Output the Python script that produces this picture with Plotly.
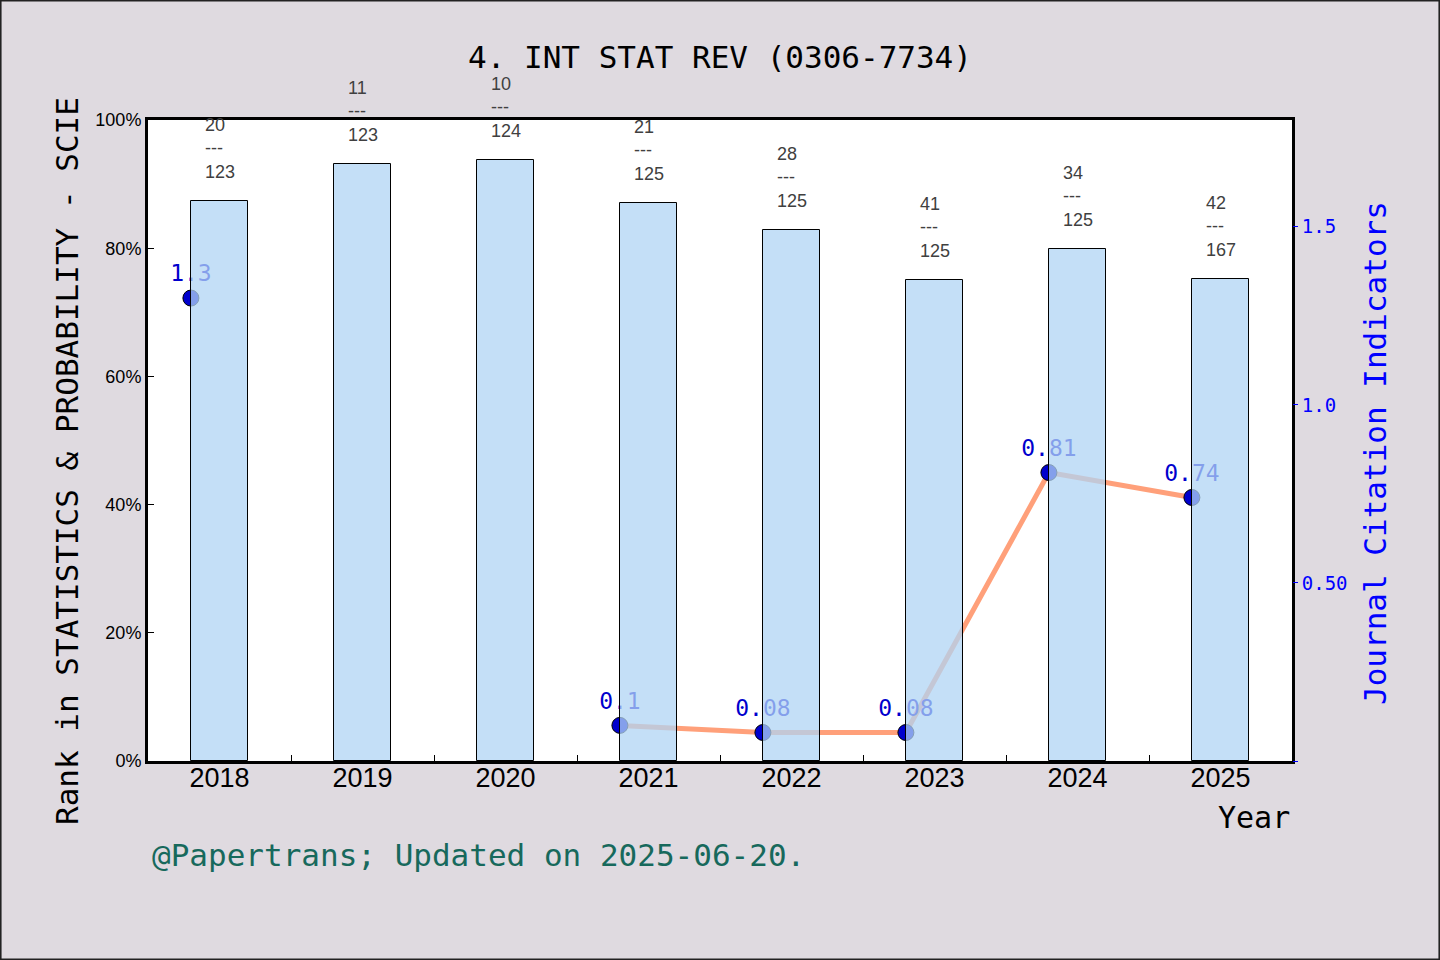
import plotly.graph_objects as go

# data
years = ["2018", "2019", "2020", "2021", "2022", "2023", "2024", "2025"]
rank_pct = [87.3, 93.1, 93.7, 87.0, 82.8, 75.0, 79.8, 75.2]
rank_pos = [20, 11, 10, 21, 28, 41, 34, 42]
rank_total = [123, 123, 124, 125, 125, 125, 125, 167]
jci = [1.3, None, None, 0.1, 0.08, 0.08, 0.81, 0.74]
pct_ticks = [0, 20, 40, 60, 80, 100]

BAR_W = 0.4
MONO = "DejaVu Sans Mono"
SANS = "Liberation Sans"
BG = "#dfdae0"

idx = list(range(len(years)))
line_x = [i - BAR_W / 2 for i in idx]

fig = go.Figure()

# line goes first (main subplot) so the semi-transparent bars sit on top of it
fig.add_trace(go.Scatter(
    x=line_x, y=jci, mode="lines+markers+text",
    line=dict(color="#ffa07a", width=5),
    marker=dict(color="#0000cd", size=16, line=dict(color="black", width=1)),
    text=[("" if v is None else f"{v:g}") for v in jci],
    textposition="top center",
    textfont=dict(family=MONO, size=23, color="#0000cd"),
    connectgaps=False, showlegend=False, yaxis="y",
))

fig.add_trace(go.Bar(
    x=idx, y=rank_pct, width=BAR_W,
    marker=dict(color="rgba(176,212,244,0.75)", line=dict(color="black", width=1)),
    showlegend=False, yaxis="y2",
))

# rank fractions above each bar
for i, (p, t, v) in enumerate(zip(rank_pos, rank_total, rank_pct)):
    fig.add_annotation(
        x=i, y=v, xref="x", yref="y2", text=f"{p}<br>---<br>{t}",
        showarrow=False, yanchor="bottom", align="left", yshift=17,
        font=dict(family=SANS, size=18, color="#404040"),
    )

W, H = 1440, 960
ml, mr, mt, mb = 148, 148, 120, 199
pw, ph = W - ml - mr, H - mt - mb

fig.update_layout(
    width=W, height=H,
    margin=dict(l=ml, r=mr, t=mt, b=mb),
    paper_bgcolor=BG, plot_bgcolor="white",
    title=dict(text="4. INT STAT REV (0306-7734)", x=0.5, xanchor="center",
               y=1 - 57 / H, yanchor="middle",
               font=dict(family=MONO, size=31, color="black")),
    bargap=0,
    xaxis=dict(
        range=[-0.5, len(years) - 0.5], tickmode="array", tickvals=idx, ticktext=years,
        ticks="", tickfont=dict(family=SANS, size=27, color="black"),
        ticklabelstandoff=-9,
        showline=True, linecolor="black", linewidth=3, mirror=True,
        showgrid=False, zeroline=False,
        minor=dict(tickmode="array", tickvals=[i + 0.5 for i in idx[:-1]],
                   ticks="inside", ticklen=6, tickcolor="black", tickwidth=1),
    ),
    yaxis=dict(
        side="right", range=[0, 1.8], tickmode="array",
        tickvals=[0, 0.5, 1.0, 1.5], ticktext=["", "0.50", "1.0", "1.5"],
        ticks="outside", ticklen=5, tickcolor="#0000ff", tickwidth=1,
        tickfont=dict(family=MONO, size=19, color="#0000ff"),
        showline=False, showgrid=False, zeroline=False,
    ),
    yaxis2=dict(
        overlaying="y", side="left", range=[0, 100], tickmode="array",
        tickvals=pct_ticks, ticktext=[f"{v}%" for v in pct_ticks],
        ticks="inside", ticklen=6, tickcolor="black", tickwidth=1,
        tickfont=dict(family=SANS, size=18, color="black"),
        showline=True, linecolor="black", linewidth=3, mirror=True,
        showgrid=False, zeroline=False,
    ),
)

# axis titles, x label and footer
fig.add_annotation(text="Rank in STATISTICS & PROBABILITY - SCIE", textangle=-90,
                   xref="paper", yref="paper", x=(67 - ml) / pw, y=(H - mb - 461) / ph,
                   xanchor="center", yanchor="middle", showarrow=False,
                   font=dict(family=MONO, size=31, color="black"))
fig.add_annotation(text="Journal Citation Indicators", textangle=-90,
                   xref="paper", yref="paper", x=(1375 - ml) / pw, y=(H - mb - 453) / ph,
                   xanchor="center", yanchor="middle", showarrow=False,
                   font=dict(family=MONO, size=31, color="#0000ff"))
fig.add_annotation(text="Year", xref="paper", yref="paper", x=1, y=(H - mb - 817) / ph,
                   xanchor="right", yanchor="middle", showarrow=False,
                   font=dict(family=MONO, size=30, color="black"))
fig.add_annotation(text="@Papertrans; Updated on 2025-06-20.", xref="paper", yref="paper",
                   x=(150 - ml) / pw, y=(H - mb - 855) / ph,
                   xanchor="left", yanchor="middle", showarrow=False,
                   font=dict(family=MONO, size=31, color="#17695c"))

# thin frame round the whole picture
fig.add_shape(type="rect", xref="paper", yref="paper",
              x0=-ml / pw + 0.0005, x1=1 + mr / pw - 0.0005,
              y0=-mb / ph + 0.0008, y1=1 + mt / ph - 0.0008,
              line=dict(color="#222222", width=2), layer="below")

# drop the default page margin so the figure sits at the window corner
fig.write_html("out.html", config={"displayModeBar": False},
               post_script="document.body.style.margin='0';")
